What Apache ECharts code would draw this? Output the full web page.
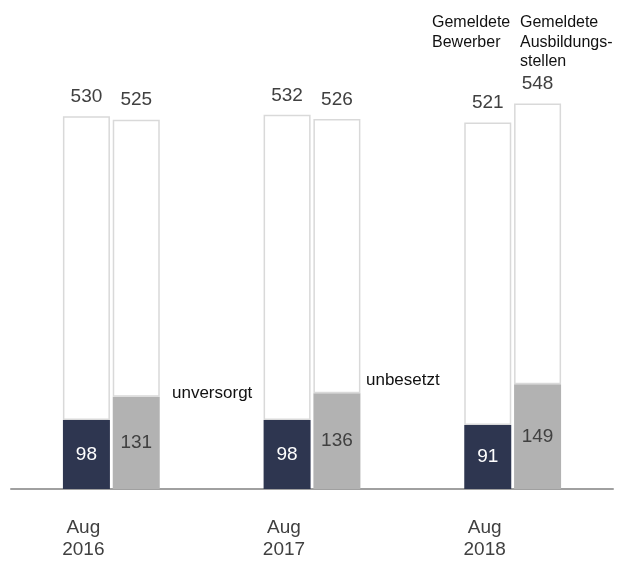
<!DOCTYPE html>
<html>
<head>
<meta charset="utf-8">
<script src="https://cdn.jsdelivr.net/npm/echarts@6/dist/echarts.min.js"></script>
<style>
html,body{margin:0;padding:0;background:#fff;}
#chart{width:626px;height:561px;}
</style>
</head>
<body>
<div id="chart"></div>
<script>
var categories = ['Aug\n2016', 'Aug\n2017', 'Aug\n2018'];
var bewerberTotal = [530, 532, 521];
var unversorgt = [98, 98, 91];
var stellenTotal = [525, 526, 548];
var unbesetzt = [131, 136, 149];

var bewerberRest = bewerberTotal.map(function (v, i) { return v - unversorgt[i]; });
var stellenRest = stellenTotal.map(function (v, i) { return v - unbesetzt[i]; });

var FONT = '"Liberation Sans", Arial, sans-serif';
var chart = echarts.init(document.getElementById('chart'), null, {renderer: 'canvas'});

var topLabel = function (totals) {
  return {
    show: true, position: 'top', distance: 10,
    fontFamily: FONT, fontSize: 19, color: '#404040',
    formatter: function (p) { return totals[p.dataIndex]; }
  };
};
var restStyle = {color: '#ffffff', borderColor: '#d9d9d9', borderWidth: 1.5};

chart.setOption({
  animation: false,
  backgroundColor: '#ffffff',
  grid: {left: 11, right: 13, top: 67, bottom: 67},
  xAxis: {
    type: 'category',
    data: categories,
    axisLine: {lineStyle: {color: '#a0a0a0', width: 2}},
    axisTick: {show: false},
    axisLabel: {
      margin: 28, fontFamily: FONT, fontSize: 19, lineHeight: 22,
      color: '#404040', align: 'center', padding: [0, 56, 0, 0]
    }
  },
  yAxis: {type: 'value', min: 0, max: 600, show: false, splitLine: {show: false}},
  series: [
    {
      name: 'unversorgt', type: 'bar', stack: 'bew', data: unversorgt,
      barWidth: 47, barGap: '6%',
      itemStyle: {color: '#2e3650'},
      label: {show: true, position: 'inside', fontFamily: FONT, fontSize: 19, color: '#ffffff'}
    },
    {
      name: 'Gemeldete Bewerber', type: 'bar', stack: 'bew', data: bewerberRest,
      barWidth: 47, barGap: '6%',
      itemStyle: restStyle,
      label: topLabel(bewerberTotal)
    },
    {
      name: 'unbesetzt', type: 'bar', stack: 'st', data: unbesetzt,
      barWidth: 47, barGap: '6%',
      itemStyle: {color: '#b2b2b2'},
      label: {show: true, position: 'inside', fontFamily: FONT, fontSize: 19, color: '#404040'}
    },
    {
      name: 'Gemeldete Ausbildungsstellen', type: 'bar', stack: 'st', data: stellenRest,
      barWidth: 47, barGap: '6%',
      itemStyle: restStyle,
      label: topLabel(stellenTotal)
    }
  ],
  graphic: [
    {type: 'text', left: 172, top: 385, style: {text: 'unversorgt', font: '17px ' + FONT, fill: '#111'}},
    {type: 'text', left: 366, top: 372, style: {text: 'unbesetzt', font: '17px ' + FONT, fill: '#111'}},
    {type: 'text', left: 432, top: 13, style: {text: 'Gemeldete\nBewerber', font: '16px ' + FONT, lineHeight: 19.5, fill: '#111'}},
    {type: 'text', left: 520, top: 13, style: {text: 'Gemeldete\nAusbildungs-\nstellen', font: '16px ' + FONT, lineHeight: 19.5, fill: '#111'}}
  ]
});
</script>
</body>
</html>
